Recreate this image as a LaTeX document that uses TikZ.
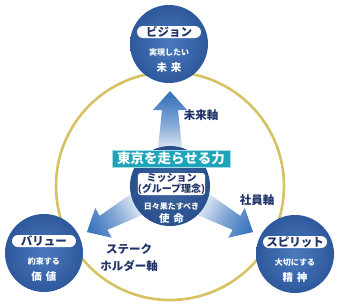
\documentclass[tikz,border=0pt]{standalone}
\usepackage{fontspec}
\setmainfont{Noto Sans CJK JP}
\usetikzlibrary{calc,positioning}

\definecolor{ballblue}{RGB}{74,122,190}
\definecolor{balledge}{RGB}{46,88,156}
\definecolor{inkblue}{RGB}{33,52,105}
\definecolor{bannerteal}{RGB}{30,164,185}
\definecolor{ringgold}{RGB}{214,194,98}
\definecolor{arrowblue}{RGB}{62,118,190}
\pgfdeclareverticalshading{axisfade}{100bp}{color(0bp)=(white); color(40bp)=(white);
  color(58bp)=(arrowblue!65); color(72bp)=(arrowblue); color(100bp)=(arrowblue)}

\begin{document}
\begin{tikzpicture}[x=1pt, y=1pt,
    ball/.style={circle, minimum size=78pt, inner sep=0pt, inner color=ballblue, outer color=balledge},
    pill/.style={fill=white, rounded corners=6pt, minimum width=64pt, minimum height=12pt, inner sep=0pt,
        text=inkblue, font=\fontsize{11.5}{12}\selectfont\bfseries},
    subtext/.style={text=white, font=\fontsize{8}{9}\selectfont\bfseries},
    maintext/.style={text=white, font=\fontsize{10.5}{11}\selectfont\bfseries},
    axislabel/.style={text=inkblue, font=\fontsize{11.5}{17}\selectfont\bfseries, align=center}]
    \useasboundingbox (-170,-120) rectangle (169,186);
    \coordinate (M) at (0,0);
    \draw[ringgold, line width=2.6pt] (M) circle (114);
    % the three axes
    \foreach \a in {0,119,-119} {
        \begin{scope}[transform canvas={rotate=\a}]
            \shade[shading=axisfade] (-16,0) -- (-8,76) -- (-17,76) -- (0,95) -- (17,76) -- (8,76) -- (16,0) -- cycle;
        \end{scope}
    }
    \node[ball] (vision) at (-1,142) {};
    \node[ball] (value) at (-126,-67) {};
    \node[ball] (spirit) at (125,-68) {};
    \node[ball, minimum size=80pt, inner color=ballblue!85!black, outer color=balledge!90!black] (mission) at (M) {};
    \foreach \c/\p/\s/\m in {vision/ビジョン/実現したい/未\kern4pt来, value/バリュー/約束する/価\kern4pt値, spirit/スピリット/大切にする/精\kern4pt神} {
        \node[pill] (\c-pill) at ($(\c)+(0,12)$) {\p};
        \node[subtext] (\c-sub) at ($(\c)+(0,-8)$) {\s};
        \node[maintext] (\c-main) at ($(\c)+(0,-24)$) {\m};
    }
    \node[fill=bannerteal, draw=bannerteal!40, line width=0.8pt, text=white, font=\fontsize{13.5}{14}\selectfont\bfseries,
        minimum width=118pt, minimum height=17pt, inner sep=0pt] (banner) at (1,27.5) {東京を走らせる力};
    \node[pill, rounded corners=3pt, minimum width=63pt, minimum height=22pt, align=center,
        font=\fontsize{10}{10.5}\selectfont\bfseries] (mission-pill) at (1.5,2) {ミッション\\(グループ理念)};
    \node[subtext] (mission-sub) at (1.5,-21) {日々果たすべき};
    \node[maintext] (mission-main) at (1.5,-33) {使\kern4pt命};
    \node[axislabel] (future-axis) at (31,71) {未来軸};
    \node[axislabel] (staff-axis) at (87,-14) {社員軸};
    \node[axislabel] (stake-axis) at (-41,-71.5) {ステーク\\ホルダー軸};
\end{tikzpicture}
\end{document}
